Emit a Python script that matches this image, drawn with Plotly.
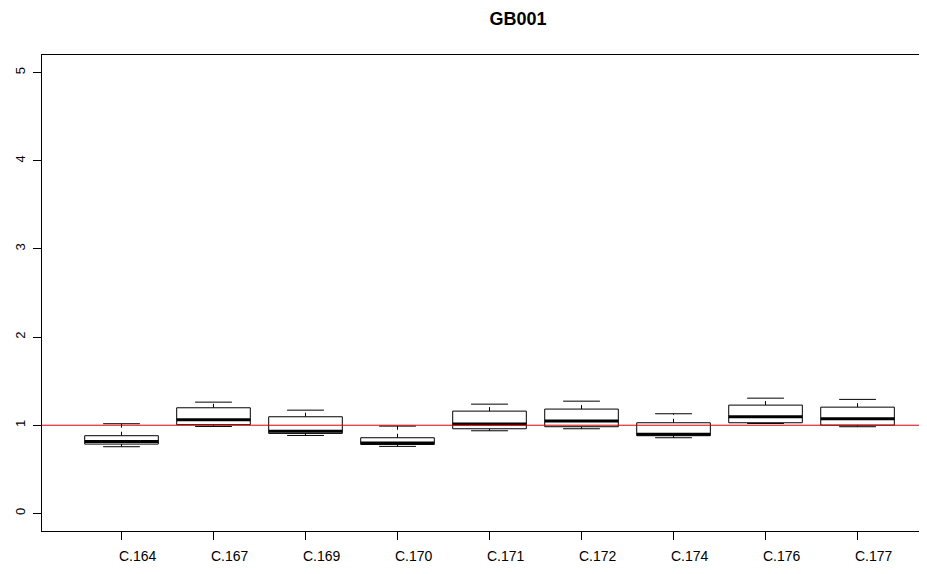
import plotly.graph_objects as go

# ---- data ----
categories = ["C.164", "C.167", "C.169", "C.170", "C.171", "C.172", "C.174", "C.176", "C.177"]
lower_whisker = [0.756, 0.986, 0.884, 0.760, 0.937, 0.960, 0.858, 1.020, 0.983]
q1 = [0.786, 1.006, 0.907, 0.782, 0.960, 0.983, 0.881, 1.028, 1.001]
median = [0.816, 1.062, 0.933, 0.797, 1.013, 1.047, 0.899, 1.096, 1.074]
q3 = [0.881, 1.198, 1.096, 0.858, 1.160, 1.183, 1.028, 1.228, 1.205]
upper_whisker = [1.017, 1.262, 1.171, 0.990, 1.239, 1.273, 1.130, 1.307, 1.293]
y_ticks = [0, 1, 2, 3, 4, 5]
reference_level = 1
title = "GB001"

# ---- styles ----
BOX_HALF = 0.4
CAP_HALF = 0.2
FONT = "Liberation Sans, Arial, Helvetica, sans-serif"
LABEL_SHIFT = 0.18
# the page body adds an 8px margin on every side; keep the figure inside the window
W, H = 911, 558

pos = list(range(1, len(categories) + 1))

bx, by = [], []
mx, my = [], []
wx, wy = [], []
cx, cy = [], []
for p, lo, a, m, b, hi in zip(pos, lower_whisker, q1, median, q3, upper_whisker):
    bx += [p - BOX_HALF, p + BOX_HALF, p + BOX_HALF, p - BOX_HALF, p - BOX_HALF, None]
    by += [a, a, b, b, a, None]
    mx += [p - BOX_HALF, p + BOX_HALF, None]
    my += [m, m, None]
    wx += [p, p, None, p, p, None]
    wy += [b, hi, None, a, lo, None]
    cx += [p - CAP_HALF, p + CAP_HALF, None, p - CAP_HALF, p + CAP_HALF, None]
    cy += [hi, hi, None, lo, lo, None]

fig = go.Figure()
fig.add_trace(go.Scatter(x=wx, y=wy, mode="lines",
                         line=dict(color="black", width=1, dash="4px,4px"),
                         hoverinfo="skip", showlegend=False))
fig.add_trace(go.Scatter(x=cx, y=cy, mode="lines",
                         line=dict(color="black", width=1),
                         hoverinfo="skip", showlegend=False))
fig.add_trace(go.Scatter(x=bx, y=by, mode="lines", fill="toself", fillcolor="white",
                         line=dict(color="black", width=1),
                         hoverinfo="skip", showlegend=False))
fig.add_trace(go.Scatter(x=mx, y=my, mode="lines",
                         line=dict(color="black", width=3),
                         hoverinfo="skip", showlegend=False))

fig.add_hline(y=reference_level, line=dict(color="#e00000", width=1))

for p, c in zip(pos, categories):
    fig.add_annotation(x=p + LABEL_SHIFT, y=-0.053, xref="x", yref="paper",
                       text=c, showarrow=False, xanchor="center", yanchor="middle",
                       font=dict(family=FONT, size=14, color="black"))

fig.update_layout(
    template="none",
    width=W, height=H,
    margin=dict(l=34, r=0, t=47, b=35, pad=0, autoexpand=False),
    paper_bgcolor="white", plot_bgcolor="white",
    title=dict(text=f"<b>{title}</b>", x=510 / W, xanchor="center", xref="container",
               y=1 - 11 / H, yanchor="middle", yref="container",
               font=dict(family=FONT, size=18, color="black")),
    font=dict(family=FONT, size=14, color="black"),
    hovermode=False,
    showlegend=False,
)
fig.update_xaxes(range=[0.136, 9.668], tickvals=pos, ticktext=[""] * len(pos),
                 showticklabels=False, ticks="outside", ticklen=8, tickcolor="black",
                 tickwidth=1, automargin=False,
                 showline=True, linecolor="black", linewidth=1, mirror=True,
                 showgrid=False, zeroline=False)
fig.update_yaxes(range=[-0.2, 5.2], tickvals=y_ticks, ticktext=[str(t) for t in y_ticks],
                 tickangle=-90, ticks="outside", ticklen=8, tickcolor="black",
                 tickwidth=1, automargin=False, ticklabelstandoff=3,
                 showline=True, linecolor="black", linewidth=1, mirror=False,
                 showgrid=False, zeroline=False,
                 tickfont=dict(family=FONT, size=13, color="black"))

fig.write_html("out.html")
